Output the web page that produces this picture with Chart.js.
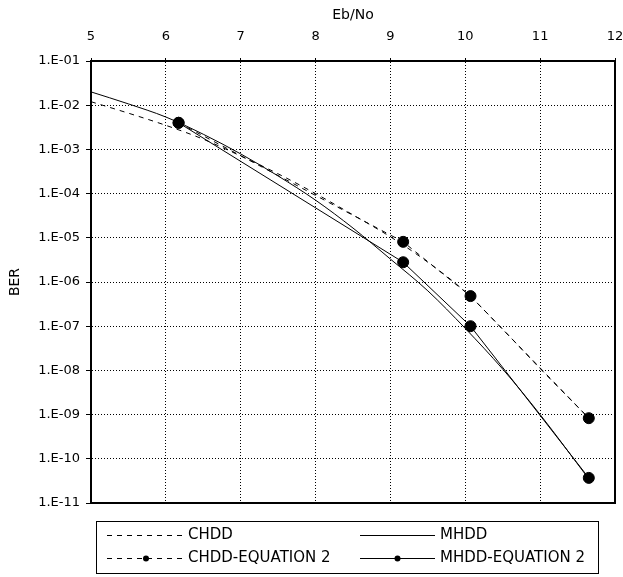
<!DOCTYPE html>
<html>
<head>
<meta charset="utf-8">
<script src="https://cdn.jsdelivr.net/npm/chart.js@4.4.1/dist/chart.umd.min.js"></script>
<style>body{margin:0;background:#fff}</style>
</head>
<body>
<canvas id="berChart" width="623" height="577"></canvas>
<script>
// Eb/No points for the simulated curves
var ebNo = [5, 5.5, 6, 6.5, 7, 7.5, 8, 8.5, 9, 9.5, 10, 10.5, 11, 11.65];
var chdd = [1.2e-2, 6.6e-3, 3.5e-3, 1.7e-3, 7.1e-4, 2.8e-4, 1.0e-4, 3.3e-5, 1.05e-5, 2.8e-6, 6.0e-7, 8.5e-8, 1.1e-8, 8.3e-10];
var mhdd = [2.0e-2, 1.07e-2, 5.4e-3, 2.2e-3, 7.9e-4, 2.5e-4, 7.1e-5, 1.66e-5, 3.3e-6, 6.3e-7, 8.9e-8, 1.07e-8, 1.0e-9, 3.5e-11];

// equation 2 points (markers)
var eqEbNo = [6.17, 9.17, 10.07, 11.65];
var chddEq2 = [4.0e-3, 8.1e-6, 4.8e-7, 8.3e-10];
var mhddEq2 = [4.0e-3, 2.8e-6, 1.0e-7, 3.7e-11];

var labels = ['CHDD', 'MHDD', 'CHDD-EQUATION 2', 'MHDD-EQUATION 2'];
var yTicks = [1e-1, 1e-2, 1e-3, 1e-4, 1e-5, 1e-6, 1e-7, 1e-8, 1e-9, 1e-10, 1e-11];
var yTickLabels = ['1.E-01', '1.E-02', '1.E-03', '1.E-04', '1.E-05', '1.E-06', '1.E-07', '1.E-08', '1.E-09', '1.E-10', '1.E-11'];

function pts(xs, ys) {
	return xs.map(function (x, i) { return {x: x, y: ys[i]}; });
}

var family = "'DejaVu Sans', Arial, sans-serif";
var font = {family: family, size: 13};

// box around the plot
var framePlugin = {
	id: 'frame',
	afterDraw: function (chart) {
		var a = chart.chartArea, ctx = chart.ctx;
		ctx.save();
		ctx.strokeStyle = '#000';
		ctx.lineWidth = 2;
		ctx.strokeRect(a.left, a.top, a.right - a.left, a.bottom - a.top);
		ctx.restore();
	}
};

// Excel style legend in a box under the plot
var boxLegend = {
	id: 'boxLegend',
	afterDraw: function (chart) {
		var ctx = chart.ctx;
		ctx.save();
		ctx.strokeStyle = '#000';
		ctx.lineWidth = 1;
		ctx.strokeRect(96.5, 521.5, 502, 52);
		var lineX = [[107, 185], [360, 435]];
		var textX = [188, 440];
		var rowY = [535, 558];
		chart.data.datasets.forEach(function (ds, i) {
			var col = i % 2, row = Math.floor(i / 2);
			var y = rowY[row] + 0.5;
			ctx.beginPath();
			ctx.setLineDash(ds.borderDash || []);
			ctx.moveTo(lineX[col][0], y);
			ctx.lineTo(lineX[col][1], y);
			ctx.stroke();
			ctx.setLineDash([]);
			if (ds.pointRadius > 0) {
				ctx.beginPath();
				ctx.arc((lineX[col][0] + lineX[col][1]) / 2, y, 3, 0, Math.PI * 2);
				ctx.fillStyle = '#000';
				ctx.fill();
			}
			ctx.fillStyle = '#000';
			ctx.font = '15px ' + family;
			ctx.textBaseline = 'middle';
			ctx.fillText(ds.label, textX[col], y);
		});
		ctx.restore();
	}
};

var ctx = document.getElementById('berChart').getContext('2d');
var chart = new Chart(ctx, {
	type: 'line',
	data: {
		datasets: [{
			label: labels[0],
			data: pts(ebNo, chdd),
			borderColor: '#000',
			borderWidth: 1,
			borderDash: [5, 5],
			pointRadius: 0,
			cubicInterpolationMode: 'monotone'
		}, {
			label: labels[1],
			data: pts(ebNo, mhdd),
			borderColor: '#000',
			borderWidth: 1,
			pointRadius: 0,
			cubicInterpolationMode: 'monotone'
		}, {
			label: labels[2],
			data: pts(eqEbNo, chddEq2),
			borderColor: '#000',
			backgroundColor: '#000',
			borderWidth: 1,
			borderDash: [5, 5],
			pointRadius: 5.5,
			tension: 0
		}, {
			label: labels[3],
			data: pts(eqEbNo, mhddEq2),
			borderColor: '#000',
			backgroundColor: '#000',
			borderWidth: 1,
			pointRadius: 5.5,
			tension: 0
		}]
	},
	options: {
		responsive: false,
		animation: false,
		layout: {padding: {left: 0, right: 8, top: 0, bottom: 74}},
		plugins: {legend: {display: false}, tooltip: {enabled: false}},
		scales: {
			x: {
				type: 'linear',
				position: 'top',
				min: 5,
				max: 12,
				ticks: {stepSize: 1, color: '#000', font: font, padding: 14},
				grid: {color: '#000', lineWidth: 1, tickLength: 3, tickColor: '#000'},
				border: {color: '#000', width: 2, dash: [1, 2]},
				title: {display: true, text: 'Eb/No', color: '#000', font: {family: family, size: 14}, padding: {top: 7, bottom: 0}},
				afterFit: function (scale) {
					scale.height = 61;
					scale.paddingLeft = 0;
					scale.paddingRight = 0;
				}
			},
			y: {
				type: 'logarithmic',
				min: 1e-11,
				max: 1e-1,
				ticks: {
					color: '#000',
					font: font,
					padding: 6,
					callback: function (value, index) { return yTickLabels[index]; }
				},
				afterBuildTicks: function (scale) {
					scale.ticks = yTicks.map(function (v) { return {value: v, major: true}; });
				},
				grid: {color: '#000', lineWidth: 1, tickLength: 5, tickColor: '#000'},
				border: {color: '#000', width: 2, dash: [1, 2]},
				title: {display: true, text: 'BER', color: '#000', font: {family: family, size: 14}, padding: {top: 7, bottom: 0}},
				afterFit: function (scale) { scale.width = 91; }
			}
		}
	},
	plugins: [framePlugin, boxLegend]
});
</script>
</body>
</html>
